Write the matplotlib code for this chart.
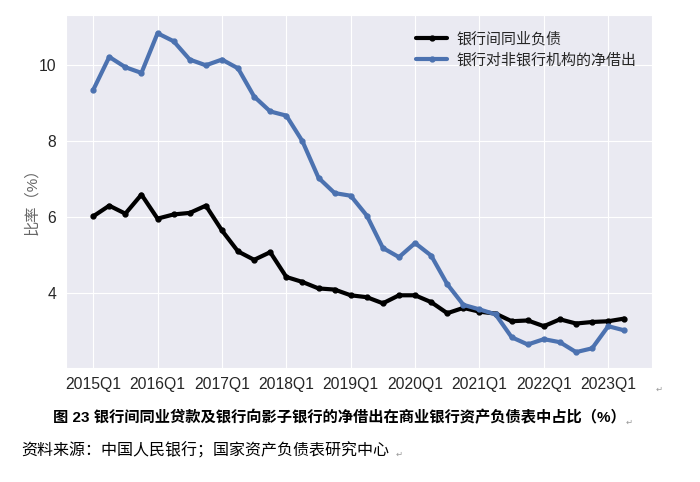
import matplotlib
matplotlib.use("Agg")
import matplotlib.pyplot as plt
import seaborn as sns

sns.set_style("darkgrid")
plt.rcParams['font.family'] = ['Liberation Sans', 'Noto Sans CJK SC', 'DejaVu Sans']

quarters = [f"{y}Q{q}" for y in range(2015, 2024) for q in range(1, 5)][:34]

interbank = [6.02, 6.30, 6.09, 6.59, 5.96, 6.07, 6.11, 6.30, 5.65, 5.10,
             4.88, 5.08, 4.43, 4.30, 4.13, 4.10, 3.95, 3.90, 3.74, 3.95,
             3.95, 3.77, 3.48, 3.62, 3.52, 3.47, 3.27, 3.29, 3.14, 3.32,
             3.21, 3.25, 3.27, 3.34]

nonbank = [9.33, 10.20, 9.93, 9.78, 10.82, 10.61, 10.13, 9.98, 10.13, 9.90,
           9.16, 8.77, 8.66, 7.99, 7.03, 6.63, 6.56, 6.04, 5.19, 4.95,
           5.32, 4.99, 4.24, 3.70, 3.58, 3.45, 2.85, 2.66, 2.80, 2.72,
           2.46, 2.56, 3.14, 3.03]

labels = ["银行间同业负债", "银行对非银行机构的净借出"]

fig = plt.figure(figsize=(7, 4.82), dpi=100)
ax = fig.add_axes([0.094, 0.237, 0.837, 0.732])

x = list(range(len(quarters)))
ax.plot(x, interbank, color="black", lw=3, marker="o", ms=3.5, label=labels[0])
ax.plot(x, nonbank, color="#4C72B0", lw=3, marker="o", ms=3.5, label=labels[1])

ax.set_xlim(-1.7, 34.7)
ax.set_ylim(2.05, 11.3)
ax.set_xticks(x[::4])
ax.set_xticklabels(quarters[::4])
ax.set_yticks([4, 6, 8, 10])
ax.tick_params(labelsize=11.3, colors="#262626")

# y label placed by hand, a bit above the axes centre like the source
fig.text(0.046, 0.59, "比率（%）", rotation=90, fontsize=11, color="#666666",
         ha="center", va="center")

ax.legend(loc="upper right", bbox_to_anchor=(0.997, 0.99), frameon=False,
          handlelength=2.1, handletextpad=0.6, labelspacing=0.45,
          prop={'size': 10.8})

fig.text(0.076, 0.133, "图 23 银行间同业贷款及银行向影子银行的净借出在商业银行资产负债表中占比（%）",
         fontsize=11, fontweight="bold", color="black", va="center")
fig.text(0.03, 0.066, "资料来源：中国人民银行；国家资产负债表研究中心",
         fontsize=11.5, color="black", va="center")

# word paragraph marks
grey = dict(fontsize=6, color="#999999", va="center",
            family=['DejaVu Sans'])
fig.text(0.936, 0.193, "↵", **grey)
fig.text(0.893, 0.125, "↵", **grey)
fig.text(0.565, 0.058, "↵", **grey)

fig.savefig("out.png", dpi=100)
